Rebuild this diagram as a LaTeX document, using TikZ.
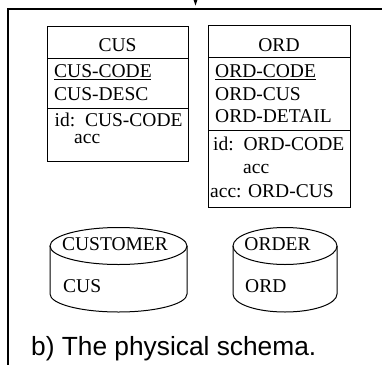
\documentclass[tikz,border=0pt]{standalone}
\usepackage{fontspec}
\setmainfont{Liberation Serif}
\newfontfamily\capfont{Liberation Sans}
\begin{document}
\begin{tikzpicture}[x=1pt,y=-1pt,
  txt/.style={anchor=base west,inner sep=0pt,text height=13pt,text depth=2pt,font=\fontsize{19.5}{23}\selectfont},
  ctxt/.style={anchor=base,inner sep=0pt,text height=13pt,text depth=2pt,font=\fontsize{19.5}{23}\selectfont},
  box/.style={draw=black,line width=1pt},
  frame/.style={draw=black,line width=2.4pt},
  cyl/.style={draw=black,line width=1pt}]
\useasboundingbox (0,0) rectangle (382,364);
% frame
\draw[frame] (8,370) -- (8,9) -- (390,9);
\fill (193.3,-1) -- (197.7,-1) -- (195.5,5.5) -- cycle;
% CUS table
\node[box,minimum width=141pt,minimum height=135pt,inner sep=0pt] (cus) at (117.5,94) {};
\draw[box] (47,58) -- (188,58);
\draw[box] (47,108) -- (188,108);
\node[ctxt] (cust) at (117.5,51) {CUS};
\node[txt] (cus1) at (54,77) {CUS-CODE};
\draw[line width=0.8pt] (cus1.base west) ++(0,2.3) -- ++(97,0);
\node[txt] (cus2) at (54,100) {CUS-DESC};
\node[txt] (cus3) at (54.5,126) {id:\ \ CUS-CODE};
\node[txt] (cus4) at (74,143) {acc};
% ORD table
\node[box,minimum width=142pt,minimum height=182pt,inner sep=0pt] (ord) at (279,116) {};
\draw[box] (208,57) -- (350,57);
\draw[box] (208,130) -- (350,130);
\node[ctxt] (ordt) at (279,51) {ORD};
\node[txt] (ord1) at (215,77) {ORD-CODE};
\draw[line width=0.8pt] (ord1.base west) ++(0,2.3) -- ++(101,0);
\node[txt] (ord2) at (215,100) {ORD-CUS};
\node[txt] (ord3) at (215,122) {ORD-DETAIL};
\node[txt] (ord4) at (213,150) {id:\ \ ORD-CODE};
\node[txt] (ord5) at (243,173) {acc};
\node[txt] (ord6) at (210,197) {acc: ORD-CUS};
% cylinders
\draw[cyl] (118.5,246) ellipse [x radius=68.5pt, y radius=18.5pt];
\draw[cyl] (50,246) -- (50,294) arc[start angle=180,end angle=360,x radius=68.5pt,y radius=18pt] -- (187,246);
\node[ctxt] (custn) at (115,250) {CUSTOMER};
\node[txt] (cusf) at (63,292) {CUS};
\draw[cyl] (285,246) ellipse [x radius=52pt, y radius=18.5pt];
\draw[cyl] (233,246) -- (233,294) arc[start angle=180,end angle=360,x radius=52pt,y radius=18pt] -- (337,246);
\node[ctxt] (ordn) at (277.5,250) {ORDER};
\node[txt] (ordf) at (245,292) {ORD};
% caption
\node[anchor=base west,inner sep=0pt,font=\capfont\fontsize{26.3}{30}\selectfont] (cap) at (31,355) {b) The physical schema.};
\end{tikzpicture}
\end{document}
